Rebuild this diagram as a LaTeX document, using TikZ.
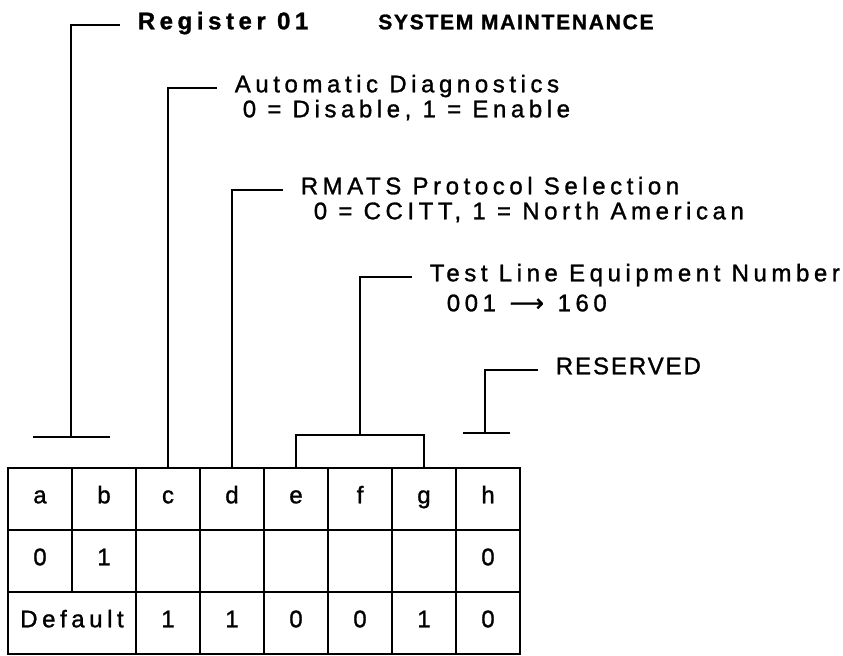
\documentclass[tikz,border=0pt]{standalone}
\usepackage{fontspec}
\setmainfont{Liberation Sans}
\newfontfamily\lblfont[LetterSpace=19, FakeBold=1.2]{Liberation Sans}
\newfontfamily\capfont[LetterSpace=8, FakeBold=1.2]{Liberation Sans}
\newfontfamily\arrowfont[FakeBold=1.2]{DejaVu Sans}
\usetikzlibrary{positioning, calc}

\begin{document}
\begin{tikzpicture}[x=0.03cm, y=-0.03cm,
  lbl/.style={anchor=west, inner xsep=15pt, inner ysep=0pt, text height=1.38ex, text depth=0pt,
              font=\lblfont\fontsize{20.5}{24}\selectfont},
  head/.style={lbl, font=\lblfont\bfseries\fontsize{20.5}{24}\selectfont},
  caps/.style={lbl, font=\capfont\fontsize{20.5}{24}\selectfont},
  cell/.style={draw, line width=2.4pt, minimum width=1.92cm, minimum height=1.86cm, inner sep=0pt,
               text height=1.38ex, text depth=0pt, font=\lblfont\fontsize{20.5}{24}\selectfont},
  wide/.style={cell, minimum width=3.84cm},
  br/.style={line width=2pt}]
  \useasboundingbox (0,0) rectangle (843,656);
  % ---- register bits
  \foreach \l [count=\i from 0] in {a,b,c,d,e,f,g,h}
    \node[cell] (\l1) at (40+64*\i,499) {\l};
  \foreach \l/\v [count=\i from 0] in {a/0,b/1,c/{},d/{},e/{},f/{},g/{},h/0}
    \node[cell] (\l2) at (40+64*\i,561) {\v};
  \node[wide] (ab3) at (72,623) {Default};
  \foreach \l/\v [count=\i from 2] in {c/1,d/1,e/0,f/0,g/1,h/0}
    \node[cell] (\l3) at (40+64*\i,623) {\v};
  % ---- field labels
  \node[head] (reg) at (120,25) {Register 01};
  \node[caps, inner xsep=0pt, font=\capfont\bfseries\fontsize{18}{22}\selectfont] (sysm) at (378,25) {SYSTEM MAINTENANCE};
  \node[lbl] (ad) at (217,88) {Automatic Diagnostics};
  \node[lbl] (adval) at ([shift={(8,25)}]ad.west) {0 = Disable, 1 = Enable};
  \node[lbl] (rp) at (283,190) {RMATS Protocol Selection};
  \node[lbl] (rpval) at ([shift={(13,25)}]rp.west) {0 = CCITT, 1 = North American};
  \node[lbl] (tl) at (412,277) {Test Line Equipment Number};
  \node[lbl] (tlval) at ([shift={(17,30)}]tl.west) {001 \hspace{2pt}{\arrowfont\fontsize{20.5}{24}\selectfont ⟶}\hspace{2pt} 160};
  \node[caps] (rs) at (538,370) {RESERVED};
  % ---- brackets
  \coordinate (abl) at (33,437);
  \coordinate (abr) at (110,437);
  \coordinate (abm) at (71,437);
  \draw[br] (abl) -- (abr);
  \draw[br] (abm) |- (reg.west);
  \draw[br] (c1.north) |- (ad.west);
  \draw[br] (d1.north) |- (rp.west);
  \coordinate (egm) at (360,435);
  \draw[br] (e1.north) |- (egm) -| (g1.north);
  \draw[br] (egm) |- (tl.west);
  \coordinate (hl) at (463,433);
  \coordinate (hr) at (510,433);
  \coordinate (hm) at (485,433);
  \draw[br] (hl) -- (hr);
  \draw[br] (hm) |- (rs.west);
\end{tikzpicture}
\end{document}
